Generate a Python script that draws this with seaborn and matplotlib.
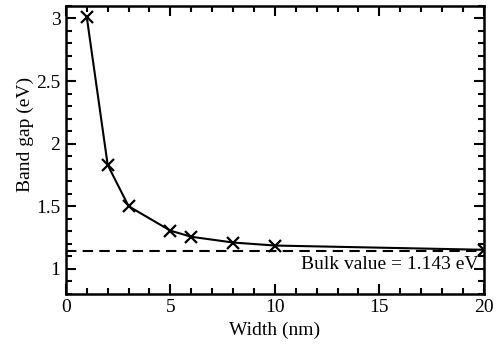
import matplotlib
matplotlib.use("Agg")
import matplotlib.pyplot as plt
from matplotlib.ticker import MultipleLocator, FuncFormatter
import seaborn as sns
import pandas as pd

width_nm = [1, 2, 3, 5, 6, 8, 10, 20]
band_gap_ev = [3.01, 1.83, 1.50, 1.305, 1.256, 1.21, 1.186, 1.152]
bulk_value = 1.143

sns.set_theme(style="ticks")
plt.rcParams["font.family"] = ["Liberation Serif", "DejaVu Serif"]
plt.rcParams.update({"text.color": "black", "axes.labelcolor": "black",
                     "xtick.color": "black", "ytick.color": "black",
                     "xtick.labelcolor": "black", "ytick.labelcolor": "black"})

df = pd.DataFrame({"Width": width_nm, "Gap": band_gap_ev})

fig = plt.figure(figsize=(5.03, 3.49), dpi=100)
ax = fig.add_axes([0.131, 0.158, 0.831, 0.825])

sns.lineplot(data=df, x="Width", y="Gap", ax=ax, color="black", linewidth=1.5,
             marker="x", markersize=9, markeredgewidth=1.6, markeredgecolor="black")
ax.axhline(bulk_value, color="black", linestyle=(0, (5, 3)), linewidth=1.5)
ax.text(19.75, bulk_value - 0.04, f"Bulk value = {bulk_value} eV",
        ha="right", va="top", fontsize=14, color="black")

ax.set_xlim(0, 20)
ax.set_ylim(0.8, 3.1)
ax.xaxis.set_major_locator(MultipleLocator(5))
ax.xaxis.set_minor_locator(MultipleLocator(1))
ax.yaxis.set_major_locator(MultipleLocator(0.5))
ax.yaxis.set_minor_locator(MultipleLocator(0.1))
ax.yaxis.set_major_formatter(FuncFormatter(lambda v, p: f"{v:g}"))

ax.tick_params(which="both", direction="in", top=True, right=True, colors="black",
               labelsize=14, width=1.5)
ax.tick_params(which="major", length=7, pad=4)
ax.tick_params(which="minor", length=4)
for s in ax.spines.values():
    s.set_linewidth(1.8)
    s.set_color("black")

ax.set_xlabel("Width (nm)", fontsize=14, labelpad=4, color="black")
ax.set_ylabel("Band gap (eV)", fontsize=14, color="black")
ax.yaxis.set_label_coords(-0.077, 0.555)

fig.savefig("out.png", dpi=100)
